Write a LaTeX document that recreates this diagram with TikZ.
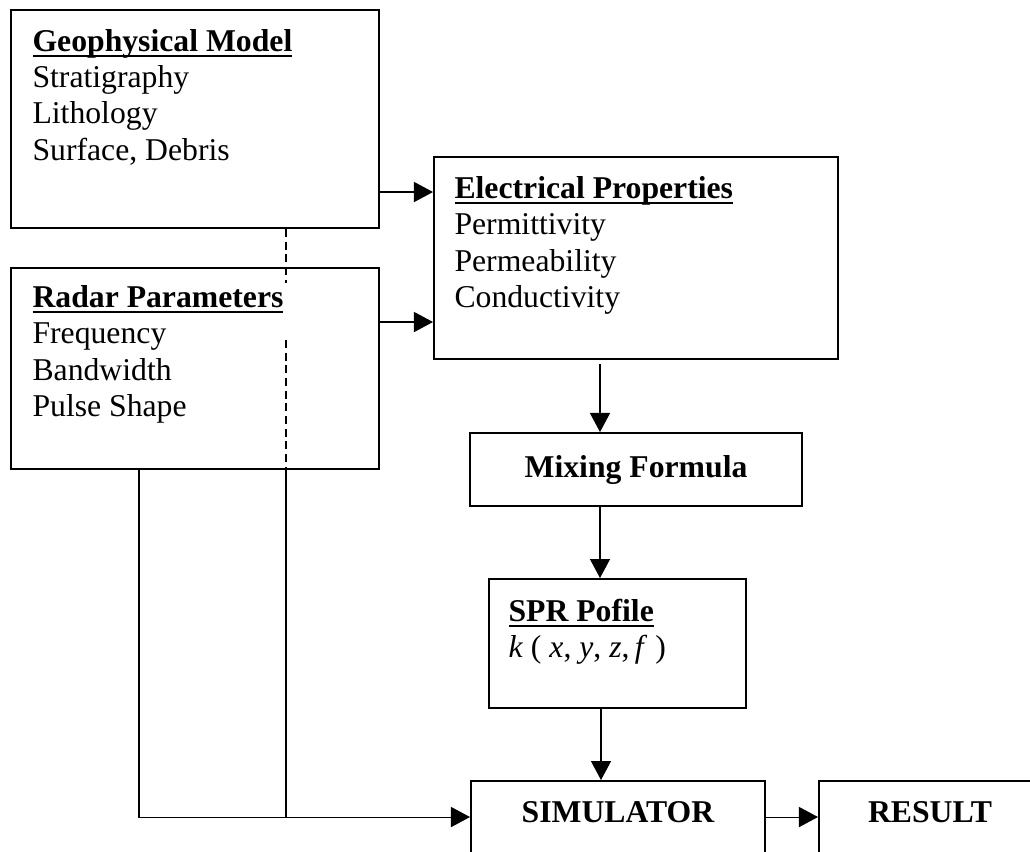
\documentclass[tikz,border=0pt]{standalone}
\usepackage{fontspec}
\setmainfont{Liberation Serif}
\usetikzlibrary{arrows.meta,positioning,calc}

% one unit = one pixel of the layout grid
\newcommand{\pxu}{0.3785pt}
% bold heading with a rule below
\newsavebox{\hdrbox}
\newcommand{\hdr}[1]{\sbox{\hdrbox}{\textbf{#1}}\rlap{\usebox{\hdrbox}}\rule[-2.1pt]{\wd\hdrbox}{0.7pt}}

\begin{document}
\begin{tikzpicture}[x=\pxu,y=-\pxu,
 box/.style={rectangle,draw,line width=0.75pt,anchor=north west,inner sep=0pt,
   font=\fontsize{12}{13.8}\selectfont\bfseries},
 txt/.style={anchor=north west,inner sep=0pt,align=left,font=\fontsize{12}{13.8}\selectfont},
 ar/.style={draw,-{Triangle[length=7.2pt,width=7.6pt]},line width=0.4pt},
 link/.style={draw,line width=0.4pt},
 dashln/.style={draw,line width=0.4pt,dash pattern=on 3pt off 1.8pt}]
\useasboundingbox (0,0) rectangle (1030,851);
\clip (0,0) rectangle (1030,851);

% input boxes
\node [box,minimum width=368*\pxu,minimum height=218*\pxu] (geo) at (10,9) {};
\node [box,minimum width=368*\pxu,minimum height=201*\pxu] (radar) at (10,267) {};
\node [box,minimum width=404*\pxu,minimum height=202*\pxu] (elec) at (433,156) {};
\node [txt] (geotxt) at ([shift={(22,19.5)}]geo.north west)
 {\hdr{Geophysical Model}\\Stratigraphy\\Lithology\\Surface, Debris};
\node [txt] (radartxt) at ([shift={(22,17.6)}]radar.north west)
 {\hdr{Radar Parameters}\\Frequency\\Bandwidth\\Pulse Shape};
\node [txt] (electxt) at ([shift={(21,19.6)}]elec.north west)
 {\hdr{Electrical Properties}\\Permittivity\\Permeability\\Conductivity};

% processing chain
\node [box,minimum width=332*\pxu,minimum height=73*\pxu] (mix) at (469,432) {Mixing Formula};
\node [box,minimum width=257*\pxu,minimum height=129*\pxu] (spr) at (488,578) {};
\node [txt] (sprtxt) at ([shift={(20,20.6)}]spr.north west)
 {\hdr{SPR Pofile}\\\textit{k} ( \textit{x}, \textit{y}, \textit{z},\,\textit{f} )};
\node [box,minimum width=294*\pxu,minimum height=120*\pxu] (sim) at (470,780) {};
\node [box,minimum width=222*\pxu,minimum height=120*\pxu] (result) at (818,780) {};
\node [txt,anchor=base,font=\fontsize{12}{13.8}\selectfont\bfseries] at ([yshift=-42*\pxu]sim.north) {SIMULATOR};
\node [txt,anchor=base,font=\fontsize{12}{13.8}\selectfont\bfseries] at ([yshift=-42*\pxu]result.north) {RESULT};

% connectors
\path [ar] (geo.east |- 0,192) -- (elec.west |- 0,192);
\path [ar] (radar.east |- 0,322) -- (elec.west |- 0,322);
\path [ar,shorten <=1.5pt] (elec.south -| 600,0) -- (mix.north -| 600,0);
\path [ar] (mix.south -| 600,0) -- (spr.north -| 600,0);
\path [ar] (spr.south -| 601,0) -- (sim.north -| 601,0);
\path [ar] (sim.east |- 0,817) -- (result.west |- 0,817);
\path [ar] (radar.south -| 139,0) |- (sim.west |- 0,817);
\path [link] (radar.south -| 286,0) -- (286,817);
\path [dashln] (geo.south -| 286,0) -- (286,283);
\path [dashln] (286,340) -- (radar.south -| 286,0);
\end{tikzpicture}
\end{document}
